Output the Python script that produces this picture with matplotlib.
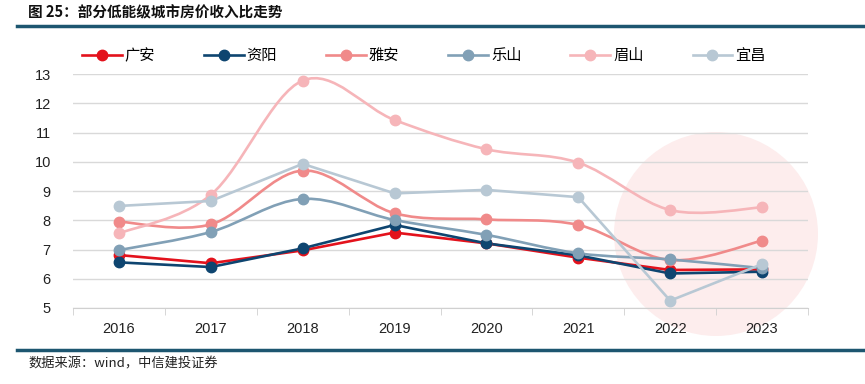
import matplotlib.pyplot as plt
import numpy as np
from matplotlib.path import Path
from matplotlib.patches import PathPatch, Ellipse
from matplotlib.lines import Line2D

plt.rcParams['font.family'] = ['Liberation Sans', 'Noto Sans CJK SC', 'DejaVu Sans']

# 年份与各城市房价收入比
years = ['2016', '2017', '2018', '2019', '2020', '2021', '2022', '2023']
guangan = [6.81, 6.53, 6.97, 7.58, 7.21, 6.72, 6.30, 6.32]
ziyang = [6.56, 6.40, 7.04, 7.84, 7.21, 6.80, 6.18, 6.24]
yaan = [7.95, 7.86, 9.70, 8.24, 8.03, 7.84, 6.64, 7.30]
leshan = [6.98, 7.60, 8.73, 8.01, 7.50, 6.87, 6.66, 6.36]
meishan = [7.55, 8.87, 12.78, 11.43, 10.43, 9.97, 8.35, 8.44]
yichang = [8.49, 8.66, 9.93, 8.92, 9.04, 8.79, 5.25, 6.50]

series = [
    ('广安', guangan, '#E3121C', False),
    ('资阳', ziyang, '#0E4570', False),
    ('雅安', yaan, '#F08A8A', True),
    ('乐山', leshan, '#81A0B6', True),
    ('眉山', meishan, '#F6B5B9', True),
    ('宜昌', yichang, '#B8C8D4', False),
]


def smooth_path(x, y):
    # 类似Excel平滑线的贝塞尔曲线
    pts = np.column_stack([x, y]).astype(float)
    n = len(pts)
    verts = [pts[0]]
    codes = [Path.MOVETO]
    for i in range(n - 1):
        p0 = pts[max(i - 1, 0)]
        p1 = pts[i]
        p2 = pts[i + 1]
        p3 = pts[min(i + 2, n - 1)]
        c1 = p1 + (p2 - p0) / 6.0
        c2 = p2 - (p3 - p1) / 6.0
        verts += [c1, c2, p2]
        codes += [Path.CURVE4] * 3
    return Path(verts, codes)


fig = plt.figure(figsize=(8.65, 3.84), dpi=100)
ax = fig.add_axes([0.0844, 0.198, 0.8497, 0.609])
ax.set_zorder(1)
ax.patch.set_alpha(0)

# 背景粉色圆
circ = Ellipse((716 / 865, 1 - 234 / 384), 2 * 102 / 865, 2 * 102 / 384,
               transform=fig.transFigure, facecolor='#FDEDED', edgecolor='none',
               zorder=-1)
fig.add_artist(circ)

x = np.arange(len(years))
handles = []
for name, vals, color, smooth in series:
    if smooth:
        ax.add_patch(PathPatch(smooth_path(x, vals), facecolor='none',
                               edgecolor=color, lw=1.9, zorder=3))
    else:
        ax.plot(x, vals, color=color, lw=1.9, zorder=3)
    ax.plot(x, vals, 'o', color=color, ms=7.5, zorder=4)
    handles.append(Line2D([], [], color=color, lw=1.9, marker='o', ms=7.5))

ax.set_xlim(-0.5, 7.5)
ax.set_ylim(5, 13)
ax.set_yticks(range(5, 14))
ax.set_xticks(x)
ax.set_xticklabels(years)
ax.set_xticks(np.arange(-0.5, 8, 1), minor=True)
ax.tick_params(axis='x', which='major', length=0, pad=10, labelsize=10.5,
               colors='#222222')
ax.tick_params(axis='x', which='minor', length=5, color='#D0D0D0')
ax.tick_params(axis='y', length=0, pad=16, labelsize=10.5, colors='#222222')
ax.grid(axis='y', color='#D9D9D9', lw=1)
ax.set_axisbelow(True)
for s in ['top', 'right', 'left']:
    ax.spines[s].set_visible(False)
ax.spines['bottom'].set_color('#D0D0D0')

fig.legend(handles, [s[0] for s in series], loc='center', ncol=6,
           bbox_to_anchor=(0.49, 1 - 56 / 384), frameon=False,
           fontsize=11, handlelength=2.6, columnspacing=3.2, handletextpad=0.2)

# 标题与线条
fig.text(28 / 865, 1 - 12 / 384, '图 25：部分低能级城市房价收入比走势',
         fontsize=10.5, fontweight='bold', va='center', ha='left',
         family=['Noto Sans CJK SC', 'DejaVu Sans'], color='#111111')
fig.add_artist(Line2D([17 / 865, 1], [1 - 26 / 384, 1 - 26 / 384],
                      color='#1D5670', lw=2.5, transform=fig.transFigure))
fig.add_artist(Line2D([17 / 865, 1], [1 - 350 / 384, 1 - 350 / 384],
                      color='#1D5670', lw=2.5, transform=fig.transFigure))
fig.text(28 / 865, 1 - 364 / 384, '数据来源：wind，中信建投证券',
         fontsize=9.5, style='italic', va='center', ha='left',
         family=['Noto Sans CJK SC', 'DejaVu Sans'], color='#222222')

fig.savefig('out.png', dpi=100)
